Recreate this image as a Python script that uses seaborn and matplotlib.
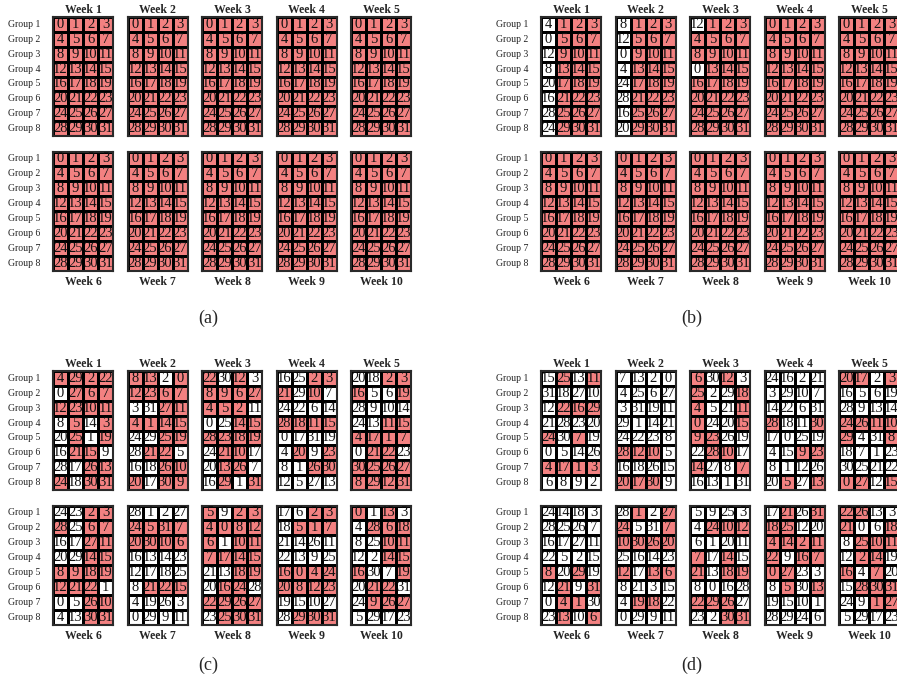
import matplotlib
matplotlib.use('Agg')
import matplotlib.pyplot as plt
import seaborn as sns
import numpy as np
from matplotlib.colors import ListedColormap

sns.set_theme(style='white')
plt.rcParams['font.family'] = ['Liberation Serif', 'DejaVu Serif']

# ---------------- data ----------------
groups = ['Group 1', 'Group 2', 'Group 3', 'Group 4',
          'Group 5', 'Group 6', 'Group 7', 'Group 8']
weeks = ['Week 1', 'Week 2', 'Week 3', 'Week 4', 'Week 5',
         'Week 6', 'Week 7', 'Week 8', 'Week 9', 'Week 10']
panel_labels = ['(a)', '(b)', '(c)', '(d)']

base_nums = [[0, 1, 2, 3], [4, 5, 6, 7], [8, 9, 10, 11], [12, 13, 14, 15],
             [16, 17, 18, 19], [20, 21, 22, 23], [24, 25, 26, 27], [28, 29, 30, 31]]
all_marked = ['1111'] * 8

# panel (a)
nums_a = [base_nums] * 10
marks_a = [all_marked] * 10

# panel (b)
nums_b = [
    [[4, 1, 2, 3], [0, 5, 6, 7], [12, 9, 10, 11], [8, 13, 14, 15],
     [20, 17, 18, 19], [16, 21, 22, 23], [28, 25, 26, 27], [24, 29, 30, 31]],
    [[8, 1, 2, 3], [12, 5, 6, 7], [0, 9, 10, 11], [4, 13, 14, 15],
     [24, 17, 18, 19], [28, 21, 22, 23], [16, 25, 26, 27], [20, 29, 30, 31]],
    [[12, 1, 2, 3], [4, 5, 6, 7], [8, 9, 10, 11], [0, 13, 14, 15],
     [16, 17, 18, 19], [20, 21, 22, 23], [24, 25, 26, 27], [28, 29, 30, 31]],
] + [base_nums] * 7
marks_b = [
    ['0111'] * 8,
    ['0111'] * 8,
    ['0111', '1111', '1111', '0111', '1111', '1111', '1111', '1111'],
] + [all_marked] * 7

# panel (c)
nums_c = [
    [[4, 29, 2, 22], [0, 27, 6, 7], [12, 23, 10, 11], [8, 5, 14, 3],
     [20, 25, 1, 19], [16, 21, 15, 9], [28, 17, 26, 13], [24, 18, 30, 31]],
    [[8, 13, 2, 0], [12, 23, 6, 7], [3, 31, 27, 11], [4, 1, 14, 15],
     [24, 29, 25, 19], [28, 21, 22, 5], [16, 18, 26, 10], [20, 17, 30, 9]],
    [[22, 30, 12, 3], [8, 9, 6, 27], [4, 5, 2, 11], [0, 25, 14, 15],
     [28, 23, 18, 19], [24, 21, 10, 17], [20, 13, 26, 7], [16, 29, 1, 31]],
    [[16, 25, 2, 3], [21, 29, 10, 7], [24, 22, 6, 14], [28, 18, 11, 15],
     [0, 17, 31, 19], [4, 20, 9, 23], [8, 1, 26, 30], [12, 5, 27, 13]],
    [[20, 18, 2, 3], [16, 5, 6, 19], [28, 9, 10, 14], [24, 13, 11, 15],
     [4, 17, 1, 7], [0, 21, 22, 23], [30, 25, 26, 27], [8, 29, 12, 31]],
    [[24, 23, 2, 3], [28, 25, 6, 7], [16, 17, 27, 11], [20, 29, 14, 15],
     [8, 9, 18, 19], [12, 21, 22, 1], [0, 5, 26, 10], [4, 13, 30, 31]],
    [[28, 1, 2, 27], [24, 5, 31, 7], [20, 30, 10, 6], [16, 13, 14, 23],
     [12, 17, 18, 25], [8, 21, 22, 15], [4, 19, 26, 3], [0, 29, 9, 11]],
    [[5, 9, 2, 3], [4, 0, 8, 12], [6, 1, 10, 11], [7, 17, 14, 15],
     [21, 13, 18, 19], [20, 16, 24, 28], [22, 29, 26, 27], [23, 25, 30, 31]],
    [[17, 6, 2, 3], [18, 5, 1, 7], [21, 14, 26, 11], [22, 13, 9, 25],
     [16, 0, 4, 24], [20, 8, 12, 23], [19, 15, 10, 27], [28, 29, 30, 31]],
    [[0, 1, 13, 3], [4, 28, 6, 18], [8, 25, 10, 11], [12, 2, 14, 15],
     [16, 30, 7, 19], [20, 21, 22, 31], [24, 9, 26, 27], [5, 29, 17, 23]],
]
marks_c = [
    ['1111', '0111', '1111', '0101', '0101', '0110', '0011', '1011'],
    ['1101', '1111', '0011', '1111', '0011', '0110', '0011', '1011'],
    ['1010', '1111', '1110', '0011', '1111', '0110', '0110', '0101'],
    ['0011', '1010', '0000', '1111', '0000', '0101', '0011', '0000'],
    ['0011', '1001', '0000', '0011', '1111', '0110', '1111', '1111'],
    ['0011', '1011', '0011', '0011', '1111', '1110', '0011', '0011'],
    ['0000', '1111', '1111', '0000', '0000', '0111', '0000', '0000'],
    ['1011', '1111', '1011', '1111', '0011', '0110', '1111', '0111'],
    ['0011', '0111', '0000', '0000', '1111', '1111', '0000', '0111'],
    ['1010', '0111', '0011', '0011', '1001', '0110', '0111', '0000'],
]

# panel (d)
nums_d = [
    [[15, 25, 13, 11], [31, 18, 27, 10], [12, 22, 16, 29], [21, 28, 23, 20],
     [24, 30, 7, 19], [0, 5, 14, 26], [4, 17, 1, 3], [6, 8, 9, 2]],
    [[7, 13, 2, 0], [4, 25, 6, 27], [3, 31, 19, 11], [29, 1, 14, 21],
     [24, 22, 23, 8], [28, 12, 10, 5], [16, 18, 26, 15], [20, 17, 30, 9]],
    [[6, 30, 12, 3], [25, 2, 29, 18], [4, 5, 21, 11], [0, 24, 20, 15],
     [9, 23, 26, 19], [22, 28, 10, 17], [14, 27, 8, 7], [16, 13, 1, 31]],
    [[24, 16, 2, 21], [3, 29, 10, 7], [14, 22, 6, 31], [28, 18, 11, 30],
     [17, 0, 25, 19], [4, 15, 9, 23], [8, 1, 12, 26], [20, 5, 27, 13]],
    [[20, 17, 2, 3], [16, 5, 6, 19], [28, 9, 13, 14], [24, 26, 11, 10],
     [29, 4, 31, 8], [18, 7, 1, 23], [30, 25, 21, 22], [0, 27, 12, 15]],
    [[24, 14, 18, 3], [28, 25, 26, 7], [16, 17, 27, 11], [22, 5, 2, 15],
     [8, 20, 29, 19], [12, 21, 9, 31], [0, 4, 1, 30], [23, 13, 10, 6]],
    [[28, 1, 2, 27], [24, 5, 31, 7], [10, 30, 26, 20], [25, 16, 14, 23],
     [12, 17, 13, 6], [8, 21, 3, 15], [4, 19, 18, 22], [0, 29, 9, 11]],
    [[5, 9, 25, 3], [4, 24, 10, 12], [6, 1, 20, 11], [7, 17, 14, 15],
     [21, 13, 18, 19], [8, 0, 16, 28], [22, 29, 26, 27], [23, 2, 30, 31]],
    [[17, 21, 26, 31], [18, 25, 12, 20], [4, 14, 2, 11], [22, 9, 16, 7],
     [0, 27, 23, 3], [8, 5, 30, 13], [19, 15, 10, 1], [28, 29, 24, 6]],
    [[22, 26, 13, 3], [21, 0, 6, 18], [8, 25, 10, 11], [12, 2, 14, 19],
     [16, 4, 7, 20], [15, 28, 30, 31], [24, 9, 1, 27], [5, 29, 17, 23]],
]
marks_d = [
    ['0101', '0000', '0111', '0000', '1010', '0000', '1111', '0000'],
    ['0000', '0000', '0000', '0000', '0000', '1110', '0000', '1110'],
    ['1010', '1001', '1001', '1001', '1100', '0110', '1001', '0000'],
    ['0000', '0000', '0000', '1001', '0000', '0011', '0000', '0101'],
    ['1101', '0000', '0000', '1111', '1001', '0000', '0000', '1101'],
    ['0000', '0000', '0000', '0000', '1010', '0101', '0110', '0101'],
    ['0101', '1001', '1111', '0000', '1011', '0000', '0110', '0000'],
    ['0000', '0111', '0000', '1010', '1011', '0000', '1110', '0011'],
    ['0101', '1100', '1111', '1011', '1100', '0101', '0000', '0000'],
    ['1100', '1001', '0111', '0110', '1010', '0111', '0011', '0000'],
]

# ---------------- drawing ----------------
W, H = 897, 686
fig = plt.figure(figsize=(W / 100, H / 100), dpi=100)
fig.patch.set_facecolor('white')

RED = '#F38181'
cmap = ListedColormap(['white', RED])

panels = [
    (nums_a, marks_a, 53, 17, 208, 318),
    (nums_b, marks_b, 541, 17, 692, 318),
    (nums_c, marks_c, 53, 371, 208, 665),
    (nums_d, marks_d, 541, 371, 692, 665),
]
CW, CH = 60, 119
DX, DY = 74.5, 134.5


def add_ax(x, y, w, h):
    return fig.add_axes([x / W, 1 - (y + h) / H, w / W, h / H])


for (nums, marks, x0, y0, lx, ly), plabel in zip(panels, panel_labels):
    for k in range(10):
        r, c = divmod(k, 5)
        ax = add_ax(x0 + c * DX, y0 + r * DY, CW, CH)
        mk = np.array([[int(ch) for ch in row] for row in marks[k]])
        nm = np.array(nums[k])
        sns.heatmap(mk, annot=nm, fmt='d', cmap=cmap, vmin=0, vmax=1,
                    cbar=False, linewidths=0.75, linecolor='black',
                    xticklabels=False,
                    yticklabels=groups if c == 0 else False,
                    annot_kws={'fontsize': 10.5, 'color': '#111111'},
                    ax=ax)
        ax.tick_params(left=False, bottom=False, length=0, pad=9, labelsize=7)
        for t in ax.get_yticklabels():
            t.set_rotation(0)
            t.set_color('#222222')
        for s in ax.spines.values():
            s.set_visible(True)
            s.set_linewidth(1.5)
            s.set_color('#2a2a2a')
        if r == 0:
            ax.set_title(weeks[k], fontweight='bold', fontsize=8.5, pad=3)
        else:
            ax.set_xlabel(weeks[k], fontweight='bold', fontsize=8.5, labelpad=4)
    fig.text(lx / W, 1 - ly / H, plabel, ha='center', va='center', fontsize=13)

fig.savefig('out.png', dpi=100, facecolor='white')
